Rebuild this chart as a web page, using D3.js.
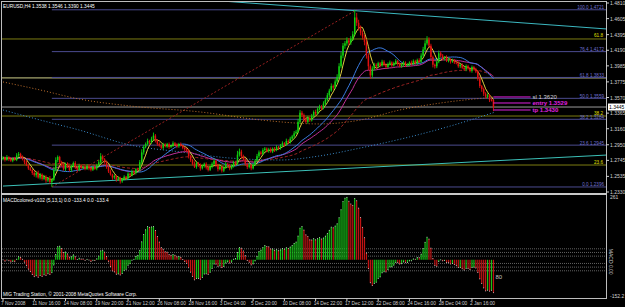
<!DOCTYPE html>
<html>
<head>
<meta charset="utf-8">
<script src="https://cdn.jsdelivr.net/npm/d3@7"></script>
<style>
  body { margin: 0; background: #000; }
  svg { display: block; }
  text { font-family: "Liberation Sans", Arial, sans-serif; }
</style>
</head>
<body>
<div id="chart"></div>
<script>
// EURUSD H4 closes, one per bar
var closes = [
  1.278,1.275,1.279,1.276,1.274,1.277,1.275,
  1.281,1.283,
  1.279,1.276,1.272,1.268,1.264,1.262,1.258,
  1.255,1.258,1.252,1.256,1.250,1.253,1.248,1.251,1.246,1.249,
  1.262,1.275,1.279,1.272,
  1.268,1.263,1.270,1.266,1.262,1.267,1.271,1.265,1.262,1.268,1.265,
  1.266,1.263,1.267,1.264,1.262,1.266,1.264,1.268,1.272,1.280,1.276,1.272,
  1.266,1.260,1.256,1.252,1.254,1.249,1.251,1.247,1.250,1.253,1.251,
  1.257,1.255,1.260,1.258,1.263,1.262,
  1.272,1.285,1.292,1.296,1.300,1.298,1.303,1.307,1.301,1.296,
  1.294,1.291,1.295,1.293,1.296,1.292,1.294,1.297,1.295,1.293,1.296,1.294,1.291,1.289,1.287,
  1.280,1.275,1.270,1.266,1.271,1.268,1.264,1.267,1.270,1.265,1.262,1.266,
  1.270,1.274,1.268,1.263,1.266,1.261,1.265,1.270,1.268,1.264,1.267,1.272,1.270,
  1.282,1.286,1.280,1.276,
  1.270,1.266,1.268,1.264,1.269,
  1.274,1.280,1.285,1.283,1.288,1.290,
  1.287,1.289,1.286,1.290,1.288,1.292,1.290,
  1.294,1.297,1.295,1.300,1.298,1.303,1.306,1.310,1.312,
  1.325,1.337,1.334,
  1.328,1.325,1.330,1.327,
  1.333,1.338,1.336,1.342,1.345,1.343,1.349,1.354,
  1.360,1.366,1.372,1.370,1.378,1.384,
  1.398,1.412,1.425,1.428,1.432,
  1.429,1.434,1.440,
  1.462,1.455,
  1.448,1.442,1.437,1.430,
  1.412,1.398,1.386,
  1.395,1.400,1.398,
  1.402,1.399,1.404,1.400,1.397,1.401,1.403,1.399,1.402,1.405,1.401,1.398,1.400,1.403,1.399,
  1.400,1.403,1.401,1.405,1.402,1.406,1.404,
  1.412,1.420,1.428,1.433,1.425,
  1.410,1.400,1.398,1.404,
  1.415,1.412,
  1.408,1.410,1.405,1.407,1.404,1.406,1.403,
  1.402,1.398,1.400,1.396,1.394,1.398,1.395,1.392,1.397,1.394,1.391,
  1.382,1.372,1.368,1.362,
  1.358,1.360,1.354,1.3538,1.3445
];
var firstOpen = 1.276;

// upper / lower shadows in pips
var wickUp = [
  20,15,25,10,20,15,20, 30,25, 15,20,10,25,15,20,10,
  25,15,30,20,15,25,20,15,30,20, 40,35,20,15,
  20,25,15,20,30,15,20,25,15,20,10,
  15,20,25,15,20,10,25,20,30,40,20,15,
  20,15,25,10,20,15,25,20,15,20,10, 20,15,25,20,15,20,
  30,40,25,20,30,15,25,40,20,15,
  20,15,25,20,15,20,10,25,15,20,15,20,10,15,20,
  25,20,15,30,20,15,25,20,15,20,25,15,
  20,25,15,20,30,15,20,25,15,20,25,20,15,
  50,40,25,20, 20,15,25,20,15, 20,30,25,20,25,20, 15,20,25,15,20,25,15,
  20,25,15,30,20,25,20,30,25, 40,35,25, 20,30,25,20,
  25,20,30,20,25,20,30,25, 30,25,35,20,30,35, 40,50,35,30,40, 30,35,40,
  101,60, 40,35,30,25, 40,30,25, 30,25,20,
  20,15,25,20,15,20,25,15,20,25,15,20,15,20,15,
  20,15,25,20,15,20,25, 30,35,40,45,30, 25,20,15,30, 35,25,
  20,15,25,20,15,20,15, 20,25,15,20,15,25,20,15,20,15,20,
  20,25,15,20, 20,25,15,20,8
];
var wickDn = [
  15,20,10,25,15,20,10, 15,20, 20,15,25,10,20,15,25,
  20,30,15,25,20,15,30,20,25,64, 15,20,30,25,
  15,20,25,15,20,25,15,20,25,15,20,
  20,15,10,25,20,15,20,25,15,20,25,20,
  25,20,15,30,20,25,15,30,20,15,20, 15,20,15,25,20,15,
  20,25,30,15,20,25,15,20,30,25,
  15,20,25,15,20,25,15,20,15,25,20,15,20,25,20,
  30,25,20,15,25,20,30,15,20,25,20,15,
  20,15,25,30,15,25,20,15,20,25,15,20,25,
  20,25,30,20, 25,30,20,25,15, 20,15,25,20,15,20, 20,25,15,20,25,15,20,
  15,20,25,15,20,15,20,25,15, 20,25,30, 30,20,25,20,
  15,20,25,15,20,25,15,20, 20,25,15,30,20,25, 30,25,35,40,30, 35,30,25,
  20,40, 30,35,40,45, 40,50,45, 30,25,35,
  20,25,15,20,25,15,20,25,15,20,25,15,20,25,20,
  15,20,25,15,20,25,15, 20,25,20,25,30, 40,35,30,25, 20,25,
  20,25,15,20,25,15,20, 15,20,25,15,20,25,15,20,25,15,20,
  30,25,35,30, 25,20,30,20,55
];

var priceTicks = [1.4810,1.4605,1.4395,1.4190,1.3985,1.3775,1.3570,1.3365,1.3160,1.2950,1.2745,1.2535,1.2330];
var dateLabels = ["7 Nov 2008","11 Nov 16:00","14 Nov 08:00","19 Nov 20:00","21 Nov 12:00","26 Nov 08:00",
  "28 Nov 16:00","3 Dec 04:00","5 Dec 20:00","10 Dec 08:00","14 Dec 22:00","17 Dec 12:00",
  "22 Dec 08:00","24 Dec 16:00","28 Dec 04:00","2 Jan 16:00"];
var dateIdx = [0,16,32,48,64,80,96,112,128,144,160,176,192,208,224,240];

// fibonacci retracement (blue) and the older one (olive)
var fibLevels = ["100.0","76.4","61.8","50.0","38.2","23.6","0.0"];
var fibPrices = [1.4721,1.4172,1.3833,1.3559,1.3284,1.2945,1.2396];
var fibAnchorIdx = [25,181];
var oliveLevels = ["61.8","50.0","38.2","23.6"];
var olivePrices = [1.4338,1.3827,1.3327,1.2684];

// trendlines: [bar index, price]
var trendUpper = [[112,1.4836],[309,1.4469]];
var trendLower = [[0,1.2408],[309,1.2815]];

// slow averages (not computable from the visible bars)
var slowOrangeIdx = [0,19,39,65,101,132,162,183,203,224,252];
var slowOrangeVal = [1.3774,1.3669,1.3550,1.3459,1.3380,1.3275,1.3223,1.3275,1.3406,1.3498,1.3577];
var slowBlueIdx = [0,19,39,65,91,116,142,162,183,208,229,252];
var slowBlueVal = [1.3406,1.3275,1.3143,1.2947,1.2855,1.2776,1.2750,1.2803,1.2908,1.3052,1.3196,1.3380];

var orderNames = ["sl 1.3620","entry 1.3529","tp 1.3430"];
var orderPrices = [1.3577,1.3498,1.3406];
var bidPrice = 1.3445;

var macdLevels = [45,30,15,-15,-30,-45];
var macdRange = [-152.2,261];

var W = 625, H = 307;
var svg = d3.select("#chart").append("svg").attr("width", W).attr("height", H)
  .style("background", "#000");

var x = d3.scaleLinear().domain([0, 251]).range([3, 3 + 251 * 1.954]);
var y = d3.scaleLinear().domain([1.2330, 1.4810]).range([192, 3]);
var ym = d3.scaleLinear().domain(macdRange).range([297, 196]);

var defs = svg.append("defs");
defs.append("clipPath").attr("id", "mainClip").append("rect")
  .attr("x", 2).attr("y", 2).attr("width", 604).attr("height", 191);
defs.append("clipPath").attr("id", "subClip").append("rect")
  .attr("x", 2).attr("y", 195).attr("width", 604).attr("height", 103);

var main = svg.append("g").attr("clip-path", "url(#mainClip)");

// candles
var bars = closes.map(function (c, i) {
  var o = i === 0 ? firstOpen : closes[i - 1];
  return { i: i, o: o, c: c,
    h: Math.max(o, c) + wickUp[i] / 10000,
    l: Math.min(o, c) - wickDn[i] / 10000 };
});

// moving averages computed from the closes
function sma(arr, n) {
  return arr.map(function (v, i) {
    var s = Math.max(0, i - n + 1);
    return d3.mean(arr.slice(s, i + 1));
  });
}
function ema(arr, n) {
  var k = 2 / (n + 1), out = [];
  arr.forEach(function (v, i) { out.push(i === 0 ? v : out[i - 1] + k * (v - out[i - 1])); });
  return out;
}

var line = d3.line().x(function (d) { return x(d[0]); }).y(function (d) { return y(d[1]); });

// horizontal levels
main.selectAll("line.olive").data(olivePrices).enter().append("line")
  .attr("x1", 2).attr("x2", 606)
  .attr("y1", function (d) { return y(d); }).attr("y2", function (d) { return y(d); })
  .attr("stroke", function (d, i) { return oliveLevels[i] === "50.0" ? "#cfcf8a" : "#7c7c12"; })
  .attr("stroke-width", 1);

main.selectAll("line.fib").data(fibPrices).enter().append("line")
  .attr("x1", x(fibAnchorIdx[0])).attr("x2", 606)
  .attr("y1", function (d) { return y(d); }).attr("y2", function (d) { return y(d); })
  .attr("stroke", "#4b4b8f").attr("stroke-width", 1);

main.append("line").attr("x1", 2).attr("x2", 606)
  .attr("y1", y(bidPrice)).attr("y2", y(bidPrice))
  .attr("stroke", "#9a9a9a").attr("stroke-width", 1);

// fib base line
main.append("line")
  .attr("x1", x(fibAnchorIdx[0])).attr("y1", y(fibPrices[6]))
  .attr("x2", x(fibAnchorIdx[1])).attr("y2", y(fibPrices[0]))
  .attr("stroke", "#9a2020").attr("stroke-width", 1).attr("stroke-dasharray", "2,2");

// trendlines
main.append("path").datum(trendUpper).attr("d", line)
  .attr("fill", "none").attr("stroke", "#3cb8c0").attr("stroke-width", 1);
main.append("path").datum(trendLower).attr("d", line)
  .attr("fill", "none").attr("stroke", "#3cc0b8").attr("stroke-width", 1);

// slow dotted averages
var curve = d3.line().curve(d3.curveMonotoneX)
  .x(function (d) { return x(d[0]); }).y(function (d) { return y(d[1]); });
main.append("path").datum(slowOrangeIdx.map(function (d, i) { return [d, slowOrangeVal[i]]; }))
  .attr("d", curve).attr("fill", "none").attr("stroke", "#c0702c")
  .attr("stroke-width", 1).attr("stroke-dasharray", "1,2");
main.append("path").datum(slowBlueIdx.map(function (d, i) { return [d, slowBlueVal[i]]; }))
  .attr("d", curve).attr("fill", "none").attr("stroke", "#3a8ac8")
  .attr("stroke-width", 1).attr("stroke-dasharray", "1,2");

var maDefs = [
  { v: ema(closes, 70), c: "#a02424", dash: "3,2" },
  { v: ema(closes, 34), c: "#c0309a", dash: null },
  { v: sma(closes, 21), c: "#3a7be0", dash: null },
  { v: sma(closes, 5), c: "#e0d040", dash: null }
];
maDefs.forEach(function (m) {
  main.append("path").datum(m.v.map(function (v, i) { return [i, v]; }))
    .attr("d", line).attr("fill", "none").attr("stroke", m.c)
    .attr("stroke-width", 1).attr("stroke-dasharray", m.dash);
});

// candles on top
var cg = main.append("g");
cg.selectAll("line.wick").data(bars).enter().append("line")
  .attr("x1", function (d) { return x(d.i); }).attr("x2", function (d) { return x(d.i); })
  .attr("y1", function (d) { return y(d.h); }).attr("y2", function (d) { return y(d.l); })
  .attr("stroke", function (d) { return d.c >= d.o ? "#10d010" : "#e01010"; })
  .attr("stroke-width", 0.9);
cg.selectAll("rect.body").data(bars).enter().append("rect")
  .attr("x", function (d) { return x(d.i) - 0.75; }).attr("width", 1.5)
  .attr("y", function (d) { return y(Math.max(d.o, d.c)); })
  .attr("height", function (d) { return Math.max(1, Math.abs(y(d.o) - y(d.c))); })
  .attr("fill", function (d) { return d.c >= d.o ? "#10d010" : "#e01010"; });

// order lines
main.selectAll("line.order").data(orderPrices).enter().append("line")
  .attr("x1", x(251)).attr("x2", x(270))
  .attr("y1", function (d) { return y(d); }).attr("y2", function (d) { return y(d); })
  .attr("stroke", "#e020e0").attr("stroke-width", 1);
main.selectAll("text.order").data(orderPrices).enter().append("text")
  .attr("x", x(271)).attr("y", function (d) { return y(d) + 2; })
  .attr("font-size", 6).attr("font-weight", function (d, i) { return i ? "bold" : "normal"; })
  .attr("fill", function (d, i) { return i ? "#e020e0" : "#d0d0d0"; })
  .text(function (d, i) { return orderNames[i]; });

// fib labels
main.selectAll("text.fib").data(fibPrices).enter().append("text")
  .attr("x", 604).attr("y", function (d) { return y(d) - 0.6; })
  .attr("text-anchor", "end").attr("font-size", 4.6).attr("fill", "#7070d0")
  .text(function (d, i) { return fibLevels[i] + "  " + d.toFixed(4); });
main.selectAll("text.olive").data(olivePrices).enter().append("text")
  .attr("x", 603).attr("y", function (d) { return y(d) - 1.5; })
  .attr("text-anchor", "end").attr("font-size", 4.6).attr("fill", "#e0e000")
  .text(function (d, i) { return oliveLevels[i] === "50.0" ? "" : oliveLevels[i]; });

// MACD (5,13,1)
var e5 = ema(closes, 5), e13 = ema(closes, 13);
var macd = closes.map(function (c, i) { return (e5[i] - e13[i]) * 10000; });
var sub = svg.append("g").attr("clip-path", "url(#subClip)");
sub.selectAll("line.lvl").data(macdLevels).enter().append("line")
  .attr("x1", 2).attr("x2", 606)
  .attr("y1", function (d) { return ym(d); }).attr("y2", function (d) { return ym(d); })
  .attr("stroke", "#7a7a7a").attr("stroke-width", 0.8).attr("stroke-dasharray", "1,1");
sub.selectAll("line.hist").data(macd).enter().append("line")
  .attr("x1", function (d, i) { return x(i); }).attr("x2", function (d, i) { return x(i); })
  .attr("y1", ym(0)).attr("y2", function (d) { return ym(d); })
  .attr("stroke", function (d, i) { return i > 0 && d < macd[i - 1] ? "#c01414" : "#18c018"; })
  .attr("stroke-width", 1.2);
sub.selectAll("rect.sig").data(macd).enter().append("rect")
  .attr("x", function (d, i) { return x(i) - 0.4; }).attr("y", function (d) { return ym(d) - 0.4; })
  .attr("width", 0.8).attr("height", 0.8).attr("fill", "#f0f0f0");
sub.append("text").attr("x", x(251) + 2).attr("y", ym(-80)).attr("font-size", 6)
  .attr("fill", "#c0c0c0").text("80");

// frame
svg.append("rect").attr("x", 1.5).attr("y", 1.5).attr("width", 605).attr("height", 297)
  .attr("fill", "none").attr("stroke", "#bdbdbd").attr("stroke-width", 1);
svg.append("rect").attr("x", 1).attr("y", 193).attr("width", 606).attr("height", 2)
  .attr("fill", "#c8c8c8");

// price axis
var ax = svg.append("g");
ax.selectAll("line.tick").data(priceTicks).enter().append("line")
  .attr("x1", 606).attr("x2", 609)
  .attr("y1", function (d) { return y(d); }).attr("y2", function (d) { return y(d); })
  .attr("stroke", "#d0d0d0");
ax.selectAll("text.tick").data(priceTicks).enter().append("text")
  .attr("x", 610).attr("y", function (d) { return y(d) + 2; })
  .attr("font-size", 5).attr("fill", "#d0d0d0")
  .text(function (d) { return d.toFixed(4); });
ax.append("rect").attr("x", 608).attr("y", y(bidPrice) - 3.5).attr("width", 17).attr("height", 7)
  .attr("fill", "#ffffff");
ax.append("text").attr("x", 609).attr("y", y(bidPrice) + 2).attr("font-size", 5)
  .attr("fill", "#000").text(bidPrice.toFixed(4));

// MACD axis
ax.append("text").attr("x", 610).attr("y", ym(macdRange[1]) + 3).attr("font-size", 5)
  .attr("fill", "#d0d0d0").text("261");
ax.append("text").attr("x", 610).attr("y", ym(macdRange[0]) + 1).attr("font-size", 5)
  .attr("fill", "#d0d0d0").text("-152.2");
ax.append("text").attr("transform", "translate(609," + ym(45) + ") rotate(90)")
  .attr("font-size", 5).attr("fill", "#d0d0d0").text("MACD 0.00");

// time axis
svg.selectAll("line.dtick").data(dateIdx).enter().append("line")
  .attr("x1", function (d) { return x(d); }).attr("x2", function (d) { return x(d); })
  .attr("y1", 298).attr("y2", 301).attr("stroke", "#d0d0d0");
svg.selectAll("text.date").data(dateIdx).enter().append("text")
  .attr("x", function (d) { return x(d) - 2; }).attr("y", 305)
  .attr("font-size", 4.8).attr("fill", "#d0d0d0")
  .text(function (d, i) { return dateLabels[i]; });

// captions
svg.append("text").attr("x", 3).attr("y", 8).attr("font-size", 4.8).attr("fill", "#fff")
  .text("EURUSD,H4 1.3538 1.3546 1.3390 1.3445");
svg.append("text").attr("x", 3).attr("y", 202).attr("font-size", 4.8).attr("fill", "#fff")
  .text("MACDcolored-v102 (5,13,1) 0.0 -133.4 0.0 -133.4");
svg.append("text").attr("x", 3).attr("y", 296).attr("font-size", 4.8).attr("fill", "#fff")
  .text("MIG Trading Station, © 2001-2008 MetaQuotes Software Corp.");
</script>
</body>
</html>
